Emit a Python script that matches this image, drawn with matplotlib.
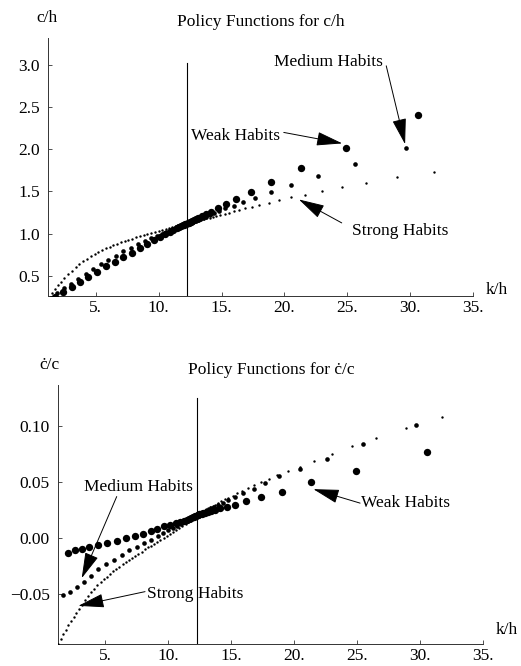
import numpy as np
import matplotlib
matplotlib.use("Agg")
import matplotlib.pyplot as plt

plt.rcParams['font.family'] = ['Liberation Serif', 'DejaVu Serif']
plt.rcParams['font.size'] = 12.5

# ---- c/h policy functions (top panel) ----
# weak habits (large dots), path from below and from above the steady state
weak_ch_k = [1.73, 2.40, 3.09, 3.73, 4.42, 5.11, 5.80, 6.50, 7.18, 7.85, 8.52, 9.10,
             9.62, 10.10, 10.52, 10.88, 11.18, 11.43, 11.63, 11.79, 11.92, 12.02, 12.10, 12.16,
             30.65, 24.93, 21.36, 18.97, 17.35, 16.18, 15.32, 14.69, 14.16, 13.75, 13.42,
             13.16, 12.95, 12.78, 12.65, 12.54, 12.46, 12.39, 12.34]
weak_ch = [0.25, 0.31, 0.37, 0.43, 0.49, 0.55, 0.61, 0.665, 0.72, 0.775, 0.83, 0.88,
           0.92, 0.96, 0.99, 1.02, 1.045, 1.065, 1.08, 1.092, 1.10, 1.108, 1.113, 1.117,
           2.405, 2.02, 1.774, 1.607, 1.496, 1.405, 1.35, 1.30, 1.26, 1.23, 1.205,
           1.185, 1.17, 1.158, 1.148, 1.14, 1.134, 1.129, 1.125]

# medium habits (medium dots)
med_ch_k = [1.45, 1.95, 2.5, 3.05, 3.6, 4.2, 4.8, 5.4, 6.0, 6.6, 7.2, 7.8, 8.35, 8.9,
            9.4, 9.85, 10.25, 10.6, 10.9, 11.15, 11.37, 11.55, 11.7, 11.83, 11.94, 12.03,
            12.1, 12.16,
            29.7, 25.6, 22.67, 20.5, 18.9, 17.7, 16.7, 15.96, 15.3, 14.8, 14.4, 14.05,
            13.75, 13.5, 13.28, 13.1, 12.95, 12.82, 12.7, 12.6, 12.51, 12.44, 12.38]
med_ch = [0.24, 0.295, 0.35, 0.405, 0.46, 0.52, 0.58, 0.635, 0.69, 0.74, 0.79, 0.835,
          0.875, 0.91, 0.945, 0.975, 1.0, 1.025, 1.045, 1.06, 1.075, 1.085, 1.095, 1.102,
          1.107, 1.112, 1.115, 1.118,
          2.01, 1.82, 1.68, 1.58, 1.49, 1.425, 1.38, 1.33, 1.30, 1.27, 1.24, 1.22,
          1.20, 1.185, 1.17, 1.16, 1.15, 1.145, 1.14, 1.135, 1.13, 1.127, 1.124]

# strong habits (small dots)
strong_ch_k = [1.25, 1.5, 1.75, 2.0, 2.25, 2.5, 2.8, 3.1, 3.4, 3.7, 4.0, 4.3, 4.6, 4.9,
               5.2, 5.5, 5.8, 6.1, 6.4, 6.7, 7.0, 7.3, 7.6, 7.9, 8.2, 8.5, 8.8, 9.1, 9.4,
               9.7, 10.0, 10.3, 10.6, 10.85, 11.1, 11.3, 11.5, 11.65, 11.8, 11.92, 12.02,
               12.1, 12.16,
               31.9, 28.95, 26.5, 24.6, 23.0, 21.66, 20.5, 19.55, 18.76, 18.0, 17.4, 16.9,
               16.4, 16.0, 15.6, 15.25, 14.9, 14.6, 14.3, 14.05, 13.8, 13.6, 13.4, 13.22,
               13.06, 12.92, 12.8, 12.7, 12.6, 12.5, 12.42, 12.35]
strong_ch = [0.23, 0.29, 0.34, 0.39, 0.43, 0.47, 0.52, 0.56, 0.60, 0.64, 0.67, 0.70,
             0.73, 0.76, 0.785, 0.805, 0.825, 0.845, 0.865, 0.88, 0.895, 0.91, 0.925,
             0.94, 0.955, 0.97, 0.98, 0.995, 1.005, 1.02, 1.03, 1.045, 1.055, 1.065,
             1.075, 1.083, 1.09, 1.097, 1.103, 1.108, 1.112, 1.115, 1.118,
             1.73, 1.667, 1.60, 1.55, 1.51, 1.46, 1.44, 1.40, 1.365, 1.34, 1.32, 1.30,
             1.28, 1.265, 1.25, 1.235, 1.22, 1.21, 1.20, 1.19, 1.18, 1.17, 1.16, 1.155,
             1.15, 1.145, 1.14, 1.135, 1.13, 1.127, 1.124, 1.122]

# ---- c-dot/c policy functions (bottom panel) ----
weak_g_k = [2.09, 2.62, 3.15, 3.76, 4.47, 5.19, 5.93, 6.65, 7.39, 8.05, 8.63, 9.16,
            9.69, 10.17, 10.6, 10.95, 11.25, 11.5, 11.7, 11.86, 11.98, 12.08, 12.16, 12.22,
            30.56, 24.9, 21.4, 19.04, 17.4, 16.2, 15.33, 14.67, 14.15, 13.75, 13.42, 13.16,
            12.96, 12.8, 12.67, 12.57, 12.49, 12.42, 12.37]
weak_g = [-0.0134, -0.011, -0.0098, -0.008, -0.0063, -0.0039, -0.0024, 0.0, 0.002,
          0.004, 0.0065, 0.0083, 0.0104, 0.0119, 0.0133, 0.0145, 0.0156, 0.0166,
          0.0174, 0.0181, 0.0187, 0.0192, 0.0196, 0.0199,
          0.077, 0.060, 0.0497, 0.0416, 0.0366, 0.0327, 0.0300, 0.0282, 0.0266, 0.0254,
          0.0243, 0.0235, 0.0228, 0.0223, 0.0219, 0.0215, 0.0212, 0.0209, 0.0207]

med_g_k = [1.69, 2.22, 2.75, 3.34, 3.87, 4.47, 5.08, 5.72, 6.33, 6.94, 7.52, 8.1, 8.66,
           9.19, 9.64, 10.04, 10.42, 10.75, 11.05, 11.3, 11.52, 11.7, 11.85, 11.98, 12.08,
           12.16, 12.22,
           29.68, 25.5, 22.66, 20.5, 18.85, 17.7, 16.8, 16.0, 15.33, 14.8, 14.35, 13.98,
           13.68, 13.42, 13.2, 13.02, 12.87, 12.75, 12.64, 12.55, 12.48, 12.42]
med_g = [-0.0506, -0.0477, -0.0432, -0.0393, -0.0337, -0.0277, -0.0232, -0.0194, -0.015,
         -0.011, -0.0078, -0.0045, -0.0015, 0.002, 0.0045, 0.0072, 0.0093, 0.0112, 0.0128,
         0.0142, 0.0154, 0.0164, 0.0172, 0.0179, 0.0185, 0.019, 0.0194,
         0.101, 0.084, 0.071, 0.0616, 0.055, 0.049, 0.0437, 0.040, 0.0365, 0.0338, 0.0315,
         0.0296, 0.028, 0.0266, 0.0254, 0.0244, 0.0236, 0.0229, 0.0223, 0.0218, 0.0214,
         0.0211]

strong_g_k = [1.3, 1.5, 1.7, 1.9, 2.1, 2.3, 2.5, 2.7, 2.9, 3.15, 3.4, 3.65, 3.9, 4.15,
              4.4, 4.65, 4.9, 5.15, 5.4, 5.65, 5.9, 6.15, 6.4, 6.65, 6.9, 7.15, 7.4, 7.65,
              7.9, 8.15, 8.4, 8.65, 8.9, 9.15, 9.4, 9.65, 9.9, 10.15, 10.4, 10.65, 10.9,
              11.15, 11.4, 11.6, 11.8, 11.95, 12.08, 12.18,
              31.8, 28.9, 26.5, 24.6, 23.0, 21.6, 20.5, 19.56, 18.7, 18.0, 17.4, 16.85,
              16.35, 15.9, 15.5, 15.13, 14.8, 14.5, 14.22, 13.97, 13.75, 13.55, 13.37, 13.2,
              13.05, 12.92, 12.8, 12.7, 12.6, 12.51, 12.43, 12.36]
strong_g = [-0.094, -0.0898, -0.0857, -0.0817, -0.0778, -0.074, -0.0703, -0.0667,
            -0.0632, -0.0592, -0.0554, -0.0518, -0.0484, -0.0452, -0.0422, -0.0394,
            -0.0368, -0.0343, -0.0319, -0.0296, -0.0274, -0.0253, -0.0233, -0.0213,
            -0.0193, -0.0174, -0.0155, -0.0137, -0.0119, -0.0101, -0.0083, -0.0066,
            -0.0049, -0.0032, -0.0015, 0.0002, 0.0019, 0.0036, 0.0053, 0.007, 0.0087,
            0.0104, 0.0125, 0.014, 0.0157, 0.0168, 0.0177, 0.0184,
            0.108, 0.098, 0.089, 0.082, 0.075, 0.069, 0.0635, 0.060, 0.0565, 0.053, 0.050,
            0.047, 0.0445, 0.042, 0.040, 0.038, 0.036, 0.0345, 0.033, 0.0315, 0.030, 0.029,
            0.028, 0.027, 0.026, 0.0253, 0.0246, 0.024, 0.0233, 0.0227, 0.022, 0.0215]

k_ss = 12.25
x_ticks = [5, 10, 15, 20, 25, 30, 35]
x_ticklabels = ["5.", "10.", "15.", "20.", "25.", "30.", "35."]
top_yticks = [0.5, 1.0, 1.5, 2.0, 2.5, 3.0]
bot_yticks = [-0.05, 0.0, 0.05, 0.10]

fig = plt.figure(figsize=(5.21, 6.66), dpi=100)
W, H = 521.0, 666.0

def style_axes(ax):
    for s in ["top", "right"]:
        ax.spines[s].set_visible(False)
    for s in ["left", "bottom"]:
        ax.spines[s].set_linewidth(0.7)
        ax.spines[s].set_color("#333333")
    ax.tick_params(direction="in", length=3, width=0.6, color="#333333")
    ax.tick_params(axis="x", pad=3)
    ax.tick_params(axis="y", pad=6)
    ax.set_xticks(x_ticks)
    ax.set_xticklabels(x_ticklabels)

arrow = dict(arrowstyle="-|>,head_length=1.3,head_width=0.35", lw=0.7, color="black",
             shrinkA=0, shrinkB=0)

# top panel
ax1 = fig.add_axes([48 / W, 1 - 296 / H, 425 / W, 258 / H])
ax1.set_xlim(1.2, 35)
ax1.set_ylim(0.26, 3.32)
style_axes(ax1)
ax1.set_yticks(top_yticks)
ax1.set_yticklabels(["0.5", "1.0", "1.5", "2.0", "2.5", "3.0"])
ax1.plot([k_ss, k_ss], [0.26, 3.02], color="black", lw=0.8)
ax1.scatter(strong_ch_k, strong_ch, s=3, color="black", linewidths=0, zorder=3)
ax1.scatter(med_ch_k, med_ch, s=11, color="black", linewidths=0, zorder=3)
ax1.scatter(weak_ch_k, weak_ch, s=28, color="black", linewidths=0, zorder=3)

ax1.text(23.5, 3.04, "Medium Habits", ha="center", va="center")
ax1.annotate("", xy=(29.6, 2.06), xytext=(28.1, 2.99), arrowprops=arrow)
ax1.text(16.1, 2.155, "Weak Habits", ha="center", va="center")
ax1.annotate("", xy=(24.6, 2.07), xytext=(19.95, 2.2), arrowprops=arrow)
ax1.text(29.2, 1.03, "Strong Habits", ha="center", va="center")
ax1.annotate("", xy=(21.15, 1.405), xytext=(24.56, 1.127), arrowprops=arrow)

fig.text(261 / W, 1 - 22 / H, "Policy Functions for c/h", ha="center", va="center")
fig.text(47 / W, 1 - 18 / H, "c/h", ha="center", va="center")
fig.text(497 / W, 1 - 290 / H, "k/h", ha="center", va="center")

# bottom panel
ax2 = fig.add_axes([58.3 / W, 1 - 644 / H, 424.4 / W, 259 / H])
ax2.set_xlim(1.29, 35)
ax2.set_ylim(-0.0944, 0.1366)
style_axes(ax2)
ax2.set_yticks(bot_yticks)
ax2.set_yticklabels(["\u22120.05", "0.00", "0.05", "0.10"])
ax2.plot([k_ss + 0.04, k_ss + 0.04], [-0.0944, 0.1247], color="black", lw=0.8)
ax2.scatter(strong_g_k, strong_g, s=3, color="black", linewidths=0, zorder=3)
ax2.scatter(med_g_k, med_g, s=11, color="black", linewidths=0, zorder=3)
ax2.scatter(weak_g_k, weak_g, s=28, color="black", linewidths=0, zorder=3)

ax2.text(7.63, 0.0458, "Medium Habits", ha="center", va="center")
ax2.annotate("", xy=(3.15, -0.0357), xytext=(5.93, 0.0371), arrowprops=arrow)
ax2.text(12.15, -0.0497, "Strong Habits", ha="center", va="center")
ax2.annotate("", xy=(2.88, -0.0604), xytext=(8.18, -0.0477), arrowprops=arrow)
ax2.text(28.9, 0.0315, "Weak Habits", ha="center", va="center")
ax2.annotate("", xy=(21.55, 0.0437), xytext=(25.26, 0.03125), arrowprops=arrow)

fig.text(271 / W, 1 - 370 / H, "Policy Functions for \u010b/c", ha="center", va="center")
fig.text(49 / W, 1 - 365 / H, "\u010b/c", ha="center", va="center")
fig.text(507 / W, 1 - 630 / H, "k/h", ha="center", va="center")

fig.savefig("out.png", dpi=100)
